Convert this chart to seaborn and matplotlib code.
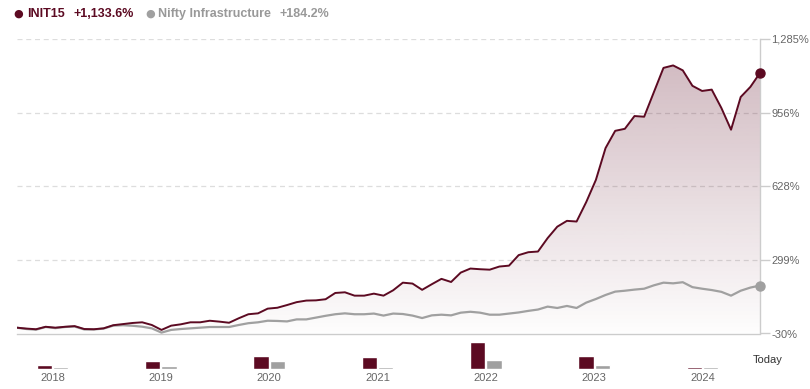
import numpy as np
import pandas as pd
import matplotlib
matplotlib.use('Agg')
import matplotlib.pyplot as plt
import seaborn as sns

# cumulative return (%), oldest first
init15 = [-4, -8, -11, 0, -4, 0, 3, -10, -11, -7, 7, 12, 17, 20, 8, -14, 5, 11, 20, 20,
          27, 23, 18, 38, 56, 60, 81, 85, 97, 110, 117, 118, 123, 151, 154, 139, 139, 148,
          139, 163, 197, 193, 165, 190, 214, 200, 242, 260, 257, 255, 269, 273, 320, 333,
          336, 396, 447, 473, 470, 557, 656, 798, 875, 884, 941, 938, 1047, 1156, 1167,
          1145, 1076, 1053, 1059, 977, 880, 1026, 1071, 1133.6]
nifty_infra = [-4, -10, -13, -1, -6, -1, 1, -12, -12, -8, 5, 7, 4.5, 0.4, -7, -26, -14, -10,
               -7, -4, -1, -1, -1, 8, 16, 20, 27, 26, 24, 33, 33, 41, 49, 56, 60, 56, 56, 59,
               50, 59, 57, 50, 39, 51, 54, 51, 63, 67, 63, 54, 54, 59, 64, 71, 77, 90, 84,
               93, 84, 108, 124, 142, 157, 161, 166, 170, 185, 197, 194, 199, 177, 170, 164,
               156, 139, 161, 175, 184.2]

# yearly bars (relative height as shown)
years = ['2018', '2019', '2020', '2021', '2022', '2023', '2024']
init15_yearly = [19, 37, 60, 55, 125, 60, 8]
infra_yearly = [8, 14, 37, 8, 42, 18, 8]

y_ticks = [-30, 299, 628, 956, 1285]
y_labels = ['-30%', '299%', '628%', '956%', '1,285%']

DARK = '#5c0a22'
GRAY = '#a0a0a0'

sns.set_style('white')
plt.rcParams['font.family'] = ['Liberation Sans', 'DejaVu Sans']

fig = plt.figure(figsize=(8.1, 3.89), dpi=100)
W, H = 810, 389
left, right = 16.7, 760
top, bottom = 39, 333.5
ax = fig.add_axes([left / W, 1 - bottom / H, (right - left) / W, (bottom - top) / H])

df = pd.DataFrame({'i': np.arange(len(init15)), 'INIT15': init15, 'Nifty': nifty_infra})
n = len(df)

# gradient fill below the INIT15 line
poly = ax.fill_between(df['i'], df['INIT15'], -30, color='none', lw=0)
grad = np.zeros((256, 1, 4))
grad[:, 0, :3] = matplotlib.colors.to_rgb(DARK)
grad[:, 0, 3] = np.linspace(0.3, 0.01, 256)
im = ax.imshow(grad, extent=[0, n - 1, -30, 1285], aspect='auto', origin='upper', zorder=1)
im.set_clip_path(poly.get_paths()[0], transform=ax.transData)

sns.lineplot(data=df, x='i', y='Nifty', color=GRAY, lw=1.6, ax=ax, zorder=3)
sns.lineplot(data=df, x='i', y='INIT15', color=DARK, lw=1.4, ax=ax, zorder=4)
ax.plot(n - 1, nifty_infra[-1], 'o', color=GRAY, ms=6.5, zorder=5, clip_on=False)
ax.plot(n - 1, init15[-1], 'o', color=DARK, ms=6.5, zorder=6, clip_on=False)

ax.set_xlim(0, n - 1)
ax.set_ylim(-30, 1285)
ax.set_xlabel('')
ax.set_ylabel('')
ax.set_xticks([])
ax.yaxis.tick_right()
ax.set_yticks(y_ticks)
ax.set_yticklabels(y_labels)
ax.tick_params(axis='y', length=7, color='#cccccc', width=1, labelcolor='#666666',
               labelsize=8, pad=1)
for y in y_ticks[1:]:
    ax.axhline(y, color='#dddddd', lw=0.9, ls=(0, (4, 3)), zorder=0)
for s in ['top', 'left']:
    ax.spines[s].set_visible(False)
for s in ['right', 'bottom']:
    ax.spines[s].set_color('#cccccc')
    ax.spines[s].set_linewidth(1)

# yearly bars
bars = pd.DataFrame({
    'year': years * 2,
    'value': init15_yearly + infra_yearly,
    'series': ['INIT15'] * len(years) + ['Nifty Infrastructure'] * len(years),
})
ax2 = fig.add_axes([left / W, 1 - 369 / H, (right - left) / W, 30 / H])
sns.barplot(data=bars, x='year', y='value', hue='series', palette=[DARK, GRAY],
            width=0.3, gap=0.05, ax=ax2, legend=False, saturation=1)
ax2.set_ylim(0, 139)
ax2.set_xlim((left - 52.4) / 108.35, (right - 52.4) / 108.35)
ax2.set_xlabel('')
ax2.set_ylabel('')
ax2.set_yticks([])
ax2.tick_params(axis='x', length=0, labelsize=8, labelcolor='#666666', pad=3)
for s in ax2.spines.values():
    s.set_visible(False)
ax2.patch.set_alpha(0)

fig.text(768 / W, 1 - 360 / H, 'Today', ha='center', va='center', fontsize=8, color='#333333')

# header legend
hy = 1 - 14 / H
fig.text(18 / W, hy, '●', ha='center', va='center', fontsize=8, family='DejaVu Sans', color=DARK)
fig.text(27 / W, hy, 'INIT15', ha='left', va='center', fontsize=9, fontweight='bold', color=DARK)
fig.text(73 / W, hy, '+1,133.6%', ha='left', va='center', fontsize=9, fontweight='bold', color=DARK)
fig.text(150 / W, hy, '●', ha='center', va='center', fontsize=8, family='DejaVu Sans', color=GRAY)
fig.text(158 / W, hy, 'Nifty Infrastructure', ha='left', va='center', fontsize=9,
         fontweight='bold', color='#999999')
fig.text(279 / W, hy, '+184.2%', ha='left', va='center', fontsize=9, fontweight='bold',
         color='#999999')

fig.savefig('out.png', dpi=100)
